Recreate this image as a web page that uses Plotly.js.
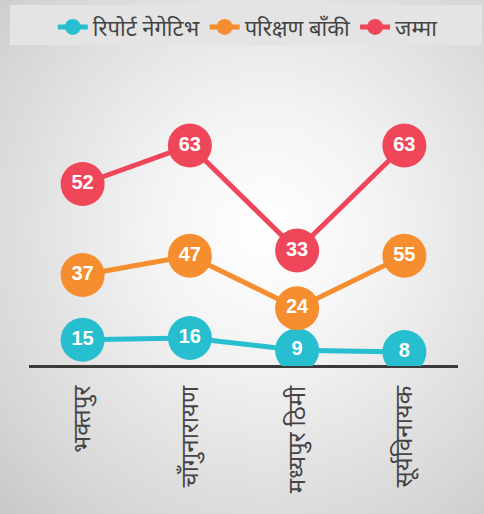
<!DOCTYPE html>
<html><head><meta charset="utf-8">
<script src="https://cdn.plot.ly/plotly-3.0.1.min.js"></script>
<style>
html,body{margin:0;padding:0;}
#chart{width:484px;height:514px;background:radial-gradient(ellipse at 55% 45%, #ffffff 0%, #f4f4f4 30%, #d6d6d6 80%, #c8c8c8 100%);}
</style></head>
<body><div id="chart"></div>
<script>
const categories = ['भक्तपुर', 'चाँगुनारायण', 'मध्यपुर ठिमी', 'सूर्यविनायक'];
const seriesNames = ['रिपोर्ट नेगेटिभ', 'परिक्षण बाँकी', 'जम्मा'];
const negative = [15, 16, 9, 8];
const pending = [37, 47, 24, 55];
const total = [52, 63, 33, 63];
const colors = ['#27BFCF', '#F68D2E', '#EF4759'];

const seriesValues = [negative, pending, total];
const traces = seriesValues.map((vals, i) => ({
  type: 'scatter',
  mode: 'lines+markers+text',
  name: seriesNames[i],
  x: categories,
  y: vals,
  stackgroup: 'one',
  fill: 'none',
  text: vals.map(String),
  textposition: 'middle center',
  textfont: {family: 'Liberation Sans, Arial, sans-serif', size: 20, color: '#ffffff', weight: 'bold'},
  line: {color: colors[i], width: 5},
  marker: {color: colors[i], size: 44, line: {width: 0}},
  hoverinfo: 'skip'
}));

const layout = {
  width: 484, height: 514,
  paper_bgcolor: 'rgba(0,0,0,0)',
  plot_bgcolor: 'rgba(0,0,0,0)',
  margin: {l: 29, r: 26, t: 121, b: 148},
  showlegend: true,
  legend: {
    orientation: 'h', x: 0.512, xanchor: 'center', xref: 'container',
    y: 0.988, yref: 'container', yanchor: 'top',
    bgcolor: 'rgba(0,0,0,0)',
    font: {family: 'Roboto, Noto Sans, sans-serif', size: 22, color: '#444444'},
    itemwidth: 30, tracegroupgap: 0
  },
  shapes: [{
    type: 'rect', xref: 'paper', yref: 'paper', layer: 'below',
    x0: -0.0443, x1: 1.056, y0: 1.310, y1: 1.4735,
    fillcolor: '#e4e4e4', line: {width: 0}
  }],
  xaxis: {
    type: 'category',
    range: [-0.5, 3.5],
    showgrid: false, zeroline: false,
    showline: false,
    tickangle: -90,
    ticks: '',
    ticklabelstandoff: 14,
    tickfont: {family: 'Roboto, Noto Sans, sans-serif', size: 24, color: '#444444'}
  },
  yaxis: {
    range: [0, 140],
    showgrid: false, zeroline: true, zerolinecolor: '#3a3a3a', zerolinewidth: 3,
    showticklabels: false, ticks: '', showline: false
  }
};
Plotly.newPlot('chart', traces, layout, {displayModeBar: false, staticPlot: true});
</script></body></html>
